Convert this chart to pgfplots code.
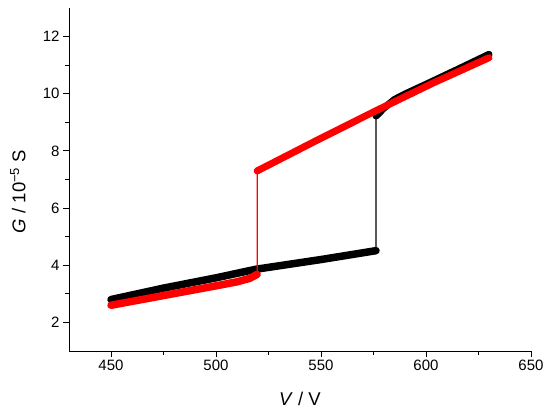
\documentclass[border=0pt]{standalone}
\usepackage{pgfplots}
\pgfplotsset{compat=1.18}
\usepackage{fontspec}
\setmainfont{Liberation Sans}
\begin{document}
\begin{tikzpicture}
\path[use as bounding box] (-69bp,-65bp) rectangle (481bp,351bp);
\begin{axis}[
  at={(0,0)}, anchor=south west,
  scale only axis, width=462bp, height=343bp,
  xmin=430, xmax=650, ymin=1, ymax=13,
  axis x line=bottom, axis y line=left,
  axis line style={-, line width=0.9bp},
  xtick={450,500,550,600,650}, ytick={2,4,6,8,10,12},
  minor x tick num=1, minor y tick num=1,
  tick align=outside,
  major tick length=6bp, minor tick length=3.5bp,
  tick style={black, line width=0.9bp},
  ticklabel style={font=\fontsize{15bp}{18bp}\selectfont},
  /pgf/number format/assume math mode=true,
  xlabel={\textit{V} / V}, ylabel={\textit{G} / 10\textsuperscript{−5} S},
  label style={font=\fontsize{18.5bp}{22bp}\selectfont},
  xlabel style={at={(axis description cs:0.5,-0.14)}, anchor=center},
  ylabel style={at={(axis description cs:-0.1104,0.465)}, anchor=center},
  clip=false,
]
% black series (thin connecting line incl. jump)
\addplot[black, line width=1.2bp] coordinates {
 (450,2.80) (475,3.20) (500,3.56) (519,3.86) (550,4.20) (576.2,4.51)
 (576.2,9.22) (580,9.50) (585,9.80) (590,9.99) (600,10.33) (615,10.85) (630,11.38)};
\addplot[black, line width=7.5bp, line cap=round, line join=round] coordinates {
 (450,2.80) (475,3.20) (500,3.56) (519,3.86) (550,4.20) (576.2,4.51)};
\addplot[black, line width=7bp, line cap=round, line join=round] coordinates {
 (576.2,9.22) (580,9.50) (585,9.80) (590,9.99) (600,10.33) (615,10.85) (630,11.38)};
% red series
\addplot[red, line width=1.2bp] coordinates {
 (450,2.60) (475,2.94) (500,3.28) (510,3.42) (516,3.54) (519.6,3.68)
 (519.6,7.30) (548,8.37) (576,9.40) (603.5,10.38) (630,11.26)};
\addplot[red, line width=7.5bp, line cap=round, line join=round] coordinates {
 (450,2.60) (475,2.94) (500,3.28) (510,3.42) (516,3.54) (519.6,3.68)};
\addplot[red, line width=7bp, line cap=round, line join=round] coordinates {
 (519.6,7.30) (548,8.37) (576,9.40) (603.5,10.38) (630,11.26)};
\end{axis}
\end{tikzpicture}
\end{document}
